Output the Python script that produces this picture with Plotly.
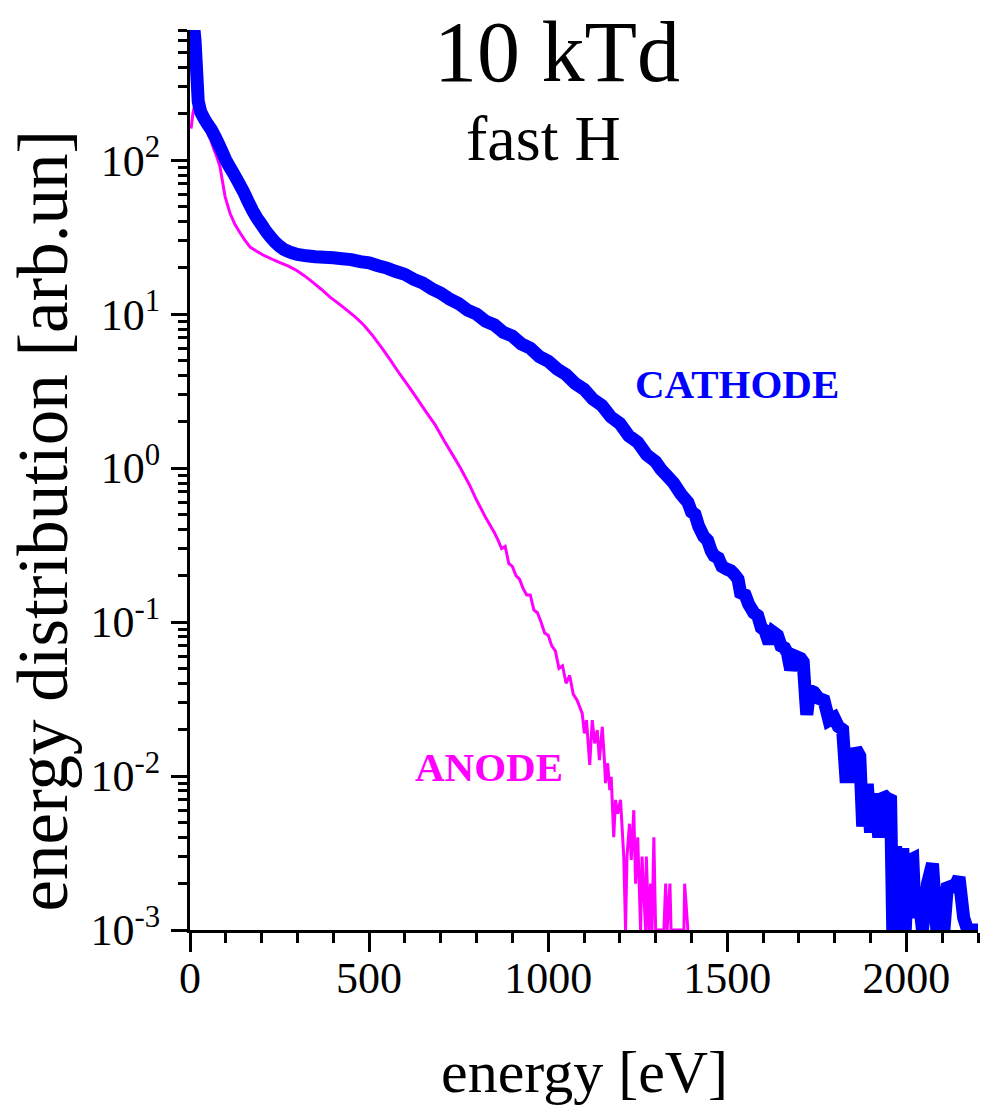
import plotly.graph_objects as go

# CATHODE (blue) energy distribution
cath_E = [0, 5, 10, 14, 18, 23, 30, 40, 50, 60, 70, 80, 90, 100, 110, 120, 135, 150, 162, 175, 187, 200, 212,
          225, 237, 250, 262, 275, 287, 300, 325, 350, 375, 400, 425, 450, 475, 500, 525, 550, 575, 600, 625, 650,
          675, 700, 725, 750, 775, 800, 825, 850, 875, 900, 925, 950, 975, 1000, 1025, 1050, 1075, 1100, 1125,
          1150, 1175, 1200, 1225, 1250, 1275, 1300, 1315, 1330, 1350, 1370, 1390, 1400, 1410, 1420, 1434, 1445,
          1455, 1463, 1475, 1485, 1500, 1510, 1519, 1530, 1537, 1550, 1560, 1574, 1585, 1595, 1605, 1617, 1628,
          1640, 1650, 1660, 1668, 1677, 1690, 1705, 1712, 1719, 1722, 1730, 1742, 1755, 1770, 1784, 1798, 1810,
          1822, 1831, 1845, 1859, 1870, 1878, 1885, 1892, 1900, 1910, 1923, 1934, 1945, 1956, 1962, 1970, 1978,
          1990, 1997, 2005, 2018, 2025, 2035, 2045, 2059, 2073, 2085, 2095, 2105, 2115, 2125, 2135, 2147, 2160,
          2171, 2200]
cath_v = [1000, 900, 750, 600, 400, 240, 205, 185, 170, 157, 142, 127, 113, 100, 91, 83, 72, 62, 54, 47, 42, 38, 34.5,
          31.6, 29.4, 27.6, 26.3, 25.5, 24.9, 24.4, 23.9, 23.6, 23.4, 23.2, 22.9, 22.6, 21.9, 21.5, 20.6, 19.9, 18.9, 18.1, 16.8, 15.9,
          14.6, 13.7, 12.5, 11.7, 10.6, 10.0, 9.0, 8.5, 7.6, 7.2, 6.4, 6.0, 5.3, 4.95, 4.4, 4.05, 3.55, 3.25, 2.8,
          2.55, 2.15, 1.95, 1.62, 1.47, 1.22, 1.1, 0.98, 0.9, 0.8, 0.68, 0.6, 0.52, 0.5, 0.42, 0.36, 0.34,
          0.29, 0.27, 0.26, 0.23, 0.22, 0.215, 0.205, 0.19, 0.155, 0.15, 0.13, 0.115, 0.11, 0.092, 0.088, 0.073, 0.086,
          0.082, 0.07, 0.068, 0.063, 0.049, 0.06, 0.058, 0.055, 0.031, 0.025, 0.036, 0.035, 0.032, 0.031, 0.023, 0.024, 0.021,
          0.020, 0.0099, 0.0099, 0.015, 0.0135, 0.0047, 0.0081, 0.0081, 0.0043, 0.0077, 0.004, 0.0076, 0.0072, 0.007, 0.001, 0.0035, 0.001,
          0.0034, 0.001, 0.0028, 0.0029, 0.0012, 0.0016, 0.001, 0.002, 0.0027, 0.001, 0.0019, 0.001, 0.002, 0.0019, 0.0019, 0.0022, 0.0012,
          0.001, 0.001]

# ANODE (magenta) energy distribution
anod_E = [3, 8, 14, 20, 30, 40, 50, 58, 65, 75, 84, 91, 98, 105, 112, 126, 140, 154, 168, 186, 204, 228, 251, 275,
          298, 320, 344, 368, 391, 415, 438, 461, 485, 510, 535, 560, 585, 610, 635, 660, 685, 710, 735, 755, 780,
          800, 825, 850, 860, 870, 880, 890, 900, 910, 920, 930, 940, 950, 960, 970, 980, 990,
          1000, 1010, 1020, 1030, 1040, 1050, 1060, 1070, 1081, 1095, 1101, 1107, 1116, 1123, 1130, 1137, 1143,
          1151, 1157, 1160, 1166, 1172, 1176, 1183, 1188, 1194, 1202, 1211, 1216, 1220, 1227, 1232, 1239, 1244,
          1250, 1258, 1262, 1272, 1274, 1281, 1286, 1290, 1295, 1300, 1323, 1328, 1332, 1340, 1343, 1379, 1381, 1390]
anod_v = [160, 200, 235, 215, 190, 170, 148, 135, 121, 105, 90, 72, 58, 51, 45, 38, 33.6, 30, 27.2, 25.6, 24.2, 22.8, 21.6, 20.5,
          19.2, 17.7, 16.0, 14.4, 12.9, 11.7, 10.6, 9.6, 8.5, 7.25, 6.05, 5.0, 4.1, 3.4, 2.8, 2.3, 1.9, 1.5, 1.2, 1.0, 0.78,
          0.62, 0.48, 0.38, 0.34, 0.30, 0.31, 0.24, 0.23, 0.20, 0.19, 0.165, 0.15, 0.15, 0.12, 0.115, 0.10, 0.085,
          0.082, 0.07, 0.065, 0.05, 0.052, 0.04, 0.045, 0.034, 0.031, 0.0255, 0.0189, 0.0231, 0.0118, 0.0231, 0.0163, 0.0199, 0.0127,
          0.0209, 0.0127, 0.009, 0.0121, 0.0081, 0.0099, 0.004, 0.007, 0.0057, 0.007, 0.003, 0.001, 0.003, 0.0049, 0.00285, 0.006, 0.002,
          0.004, 0.001, 0.003, 0.001, 0.003, 0.001, 0.002, 0.001, 0.004, 0.001, 0.001, 0.002, 0.001, 0.002, 0.001, 0.001, 0.002, 0.001]

x_ticks = [0, 500, 1000, 1500, 2000]
y_ticks = [1e-3, 1e-2, 1e-1, 1e0, 1e1, 1e2]
y_tick_text = ["10<sup>-3</sup>", "10<sup>-2</sup>", "10<sup>-1</sup>", "10<sup>0</sup>", "10<sup>1</sup>", "10<sup>2</sup>"]
y_minor = [k * 10.0 ** n for n in range(-3, 3) for k in range(2, 10) if k * 10.0 ** n <= 700]

FONT = "Liberation Serif"

fig = go.Figure()
fig.add_trace(go.Scatter(x=anod_E, y=anod_v, mode="lines",
                         line=dict(color="#FF00FF", width=3, simplify=False), showlegend=False))
fig.add_trace(go.Scatter(x=cath_E, y=cath_v, mode="lines",
                         line=dict(color="#0000FF", width=13, simplify=False), showlegend=False))

fig.update_layout(
    width=987, height=1108,
    margin=dict(l=190, r=9, t=30, b=178),
    paper_bgcolor="white", plot_bgcolor="white",
    font=dict(family=FONT, color="black"),
    xaxis=dict(range=[0, 2200], tickvals=x_ticks, ticks="outside", ticklen=19, tickwidth=3,
               tickcolor="black", showline=True, linewidth=3, linecolor="black", showgrid=False,
               zeroline=False, tickfont=dict(family=FONT, size=44), ticklabelstandoff=-12,
               minor=dict(dtick=100, ticks="outside", ticklen=10, tickwidth=3, tickcolor="black", showgrid=False)),
    yaxis=dict(type="log", range=[-3, 2.8451], tickvals=y_ticks, ticktext=y_tick_text, ticks="outside",
               ticklen=16, tickwidth=3, tickcolor="black", showline=True, linewidth=3, linecolor="black",
               showgrid=False, zeroline=False, tickfont=dict(family=FONT, size=44), ticklabelstandoff=2,
               minor=dict(tickmode="array", tickvals=y_minor, ticks="outside", ticklen=9, tickwidth=3,
                          tickcolor="black", showgrid=False)),
    annotations=[
        dict(text="10 kTd", xref="paper", yref="paper", x=0.466, y=0.9756, xanchor="center", yanchor="middle",
             showarrow=False, font=dict(family=FONT, size=86, color="black")),
        dict(text="fast H", xref="paper", yref="paper", x=0.449, y=0.879, xanchor="center", yanchor="middle",
             showarrow=False, font=dict(family=FONT, size=64, color="black")),
        dict(text="<b>CATHODE</b>", xref="paper", yref="paper", x=0.694, y=0.607, xanchor="center", yanchor="middle",
             showarrow=False, font=dict(family=FONT, size=41, color="#0000FF")),
        dict(text="<b>ANODE</b>", xref="paper", yref="paper", x=0.379, y=0.181, xanchor="center", yanchor="middle",
             showarrow=False, font=dict(family=FONT, size=41, color="#FF00FF")),
        dict(text="energy [eV]", xref="paper", yref="paper", x=0.5, y=-0.158, xanchor="center", yanchor="middle",
             showarrow=False, font=dict(family=FONT, size=60, color="black")),
        dict(text="energy distribution [arb.un]", xref="paper", yref="paper", x=-0.186, y=0.4556,
             xanchor="center", yanchor="middle", textangle=-90,
             showarrow=False, font=dict(family=FONT, size=71, color="black")),
    ],
)

fig.write_html("out.html")
